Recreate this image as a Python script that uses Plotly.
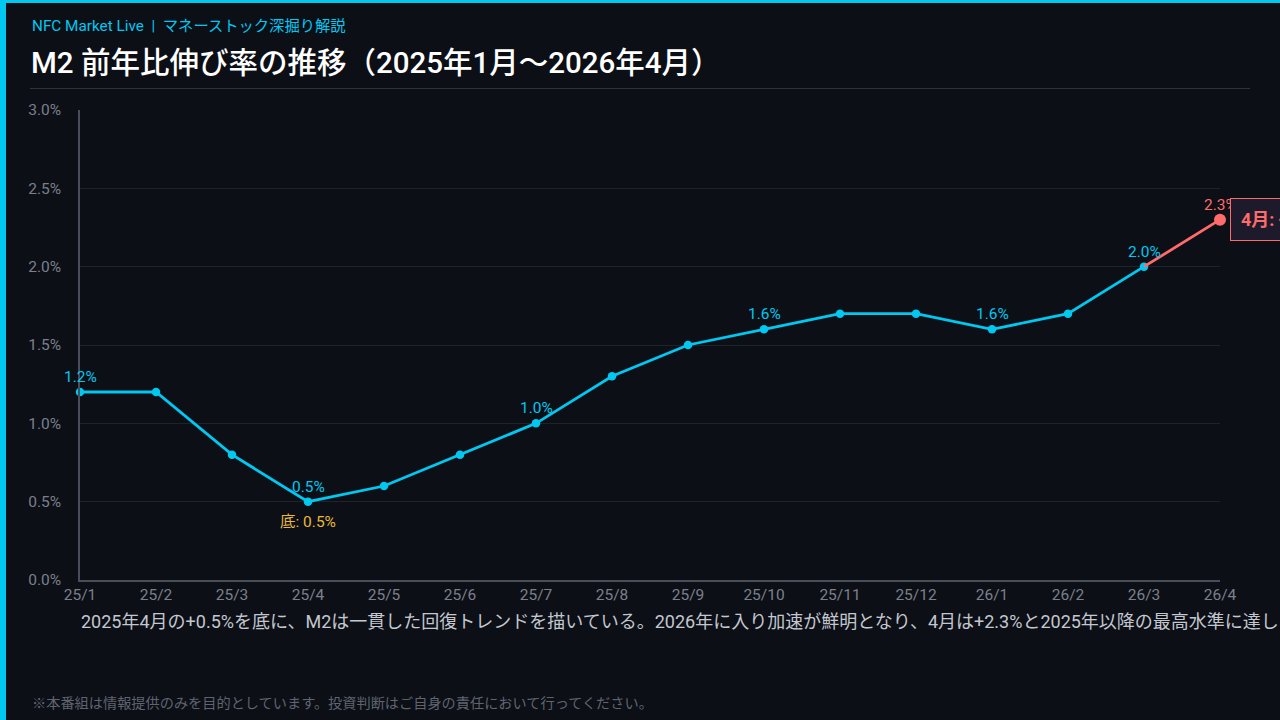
import plotly.graph_objects as go

months = ["25/1","25/2","25/3","25/4","25/5","25/6","25/7","25/8","25/9","25/10","25/11","25/12","26/1","26/2","26/3","26/4"]
m2_yoy = [1.2, 1.2, 0.8, 0.5, 0.6, 0.8, 1.0, 1.3, 1.5, 1.6, 1.7, 1.7, 1.6, 1.7, 2.0, 2.3]
label_idx = [0, 3, 6, 9, 12, 14]
y_ticks = [0, 0.5, 1.0, 1.5, 2.0, 2.5, 3.0]
y_tick_text = ["0.0%", "0.5%", "1.0%", "1.5%", "2.0%", "2.5%", "3.0%"]

W, H = 1280, 720
L, R, T, B = 80, 60, 110, 140
PW, PH = W - L - R, H - T - B
def px(x): return (x - L) / PW
def py(y): return 1 - (y - T) / PH

CYAN = "#00c8f0"
RED = "#ff6b6b"
BG = "#0c0f16"
FONT = "Roboto, 'Noto Sans CJK JP', sans-serif"

xs = list(range(len(months)))
fig = go.Figure()
fig.add_trace(go.Scatter(x=xs[:-1], y=m2_yoy[:-1], mode="lines+markers",
                         line=dict(color=CYAN, width=2.8), marker=dict(size=8.5, color=CYAN),
                         cliponaxis=False, hoverinfo="skip"))
fig.add_trace(go.Scatter(x=xs[-2:], y=m2_yoy[-2:], mode="lines",
                         line=dict(color=RED, width=2.8), cliponaxis=False, hoverinfo="skip"))
fig.add_trace(go.Scatter(x=[xs[-1]], y=[m2_yoy[-1]], mode="markers",
                         marker=dict(size=12, color=RED), cliponaxis=False, hoverinfo="skip"))

ann = []
for i in label_idx:
    ann.append(dict(x=xs[i], y=m2_yoy[i], text=f"{m2_yoy[i]:.1f}%", showarrow=False,
                    yshift=15, font=dict(color=CYAN, size=15.5, family=FONT)))
ann.append(dict(x=xs[-1], y=m2_yoy[-1], text=f"{m2_yoy[-1]:.1f}%", showarrow=False,
                yshift=15, font=dict(color=RED, size=15.5, family=FONT)))
ann.append(dict(x=xs[3], y=m2_yoy[3], text=f"底: {m2_yoy[3]:.1f}%", showarrow=False,
                yshift=-20, font=dict(color="#e8b93a", size=15.5, family=FONT)))
ann.append(dict(xref="paper", yref="y", x=px(1230), y=m2_yoy[-1], xanchor="left", yanchor="middle",
                text=f"<b>4月: +{m2_yoy[-1]:.1f}%</b>", showarrow=False,
                bgcolor="#1d1a2c", bordercolor=RED, borderwidth=1, borderpad=10,
                font=dict(color=RED, size=18, family=FONT)))
ann.append(dict(xref="paper", yref="paper", x=px(30), y=py(26), xanchor="left", yanchor="middle",
                text="NFC Market Live  |  マネーストック深掘り解説", showarrow=False,
                font=dict(color=CYAN, size=15.3, family=FONT)))
ann.append(dict(xref="paper", yref="paper", x=px(29), y=py(63), xanchor="left", yanchor="middle",
                text="M2 前年比伸び率の推移（2025年1月〜2026年4月）", showarrow=False,
                font=dict(color="#ffffff", size=29.5, family=FONT, weight=500)))
ann.append(dict(xref="paper", yref="paper", x=px(79), y=py(621), xanchor="left", yanchor="middle",
                text="2025年4月の+0.5%を底に、M2は一貫した回復トレンドを描いている。2026年に入り加速が鮮明となり、4月は+2.3%と2025年以降の最高水準に達した。",
                showarrow=False, font=dict(color="#c3c7cf", size=18, family=FONT)))
ann.append(dict(xref="paper", yref="paper", x=px(30), y=py(703), xanchor="left", yanchor="middle",
                text="※本番組は情報提供のみを目的としています。投資判断はご自身の責任において行ってください。",
                showarrow=False, font=dict(color="#5f6470", size=14.2, family=FONT)))

shapes = [
    dict(type="rect", xref="paper", yref="paper", x0=px(0), x1=px(6), y0=py(720), y1=py(0),
         fillcolor=CYAN, line=dict(width=0), layer="above"),
    dict(type="rect", xref="paper", yref="paper", x0=px(0), x1=px(1280), y0=py(3), y1=py(0),
         fillcolor=CYAN, line=dict(width=0), layer="above"),
    dict(type="line", xref="paper", yref="paper", x0=px(30), x1=px(1250), y0=py(88.5), y1=py(88.5),
         line=dict(color="#2e323c", width=1)),
]

fig.update_layout(
    width=W, height=H, margin=dict(l=L, r=R, t=T, b=B),
    paper_bgcolor=BG, plot_bgcolor=BG, showlegend=False,
    annotations=ann, shapes=shapes,
    font=dict(family=FONT),
    xaxis=dict(range=[0, 15], tickvals=xs, ticktext=months, showgrid=False, zeroline=False,
               showline=True, linecolor="#4a4e5a", linewidth=1.5, ticks="",
               tickfont=dict(color="#7b808c", size=15.5, family=FONT)),
    yaxis=dict(range=[0, 3], tickvals=y_ticks, ticktext=y_tick_text, showgrid=True,
               gridcolor="#1e222b", gridwidth=1, zeroline=False,
               showline=True, linecolor="#4a4e5a", linewidth=1.5, ticks="",
               ticklabelstandoff=14,
               tickfont=dict(color="#7b808c", size=15.5, family=FONT)),
)
fig.write_html("out.html")
